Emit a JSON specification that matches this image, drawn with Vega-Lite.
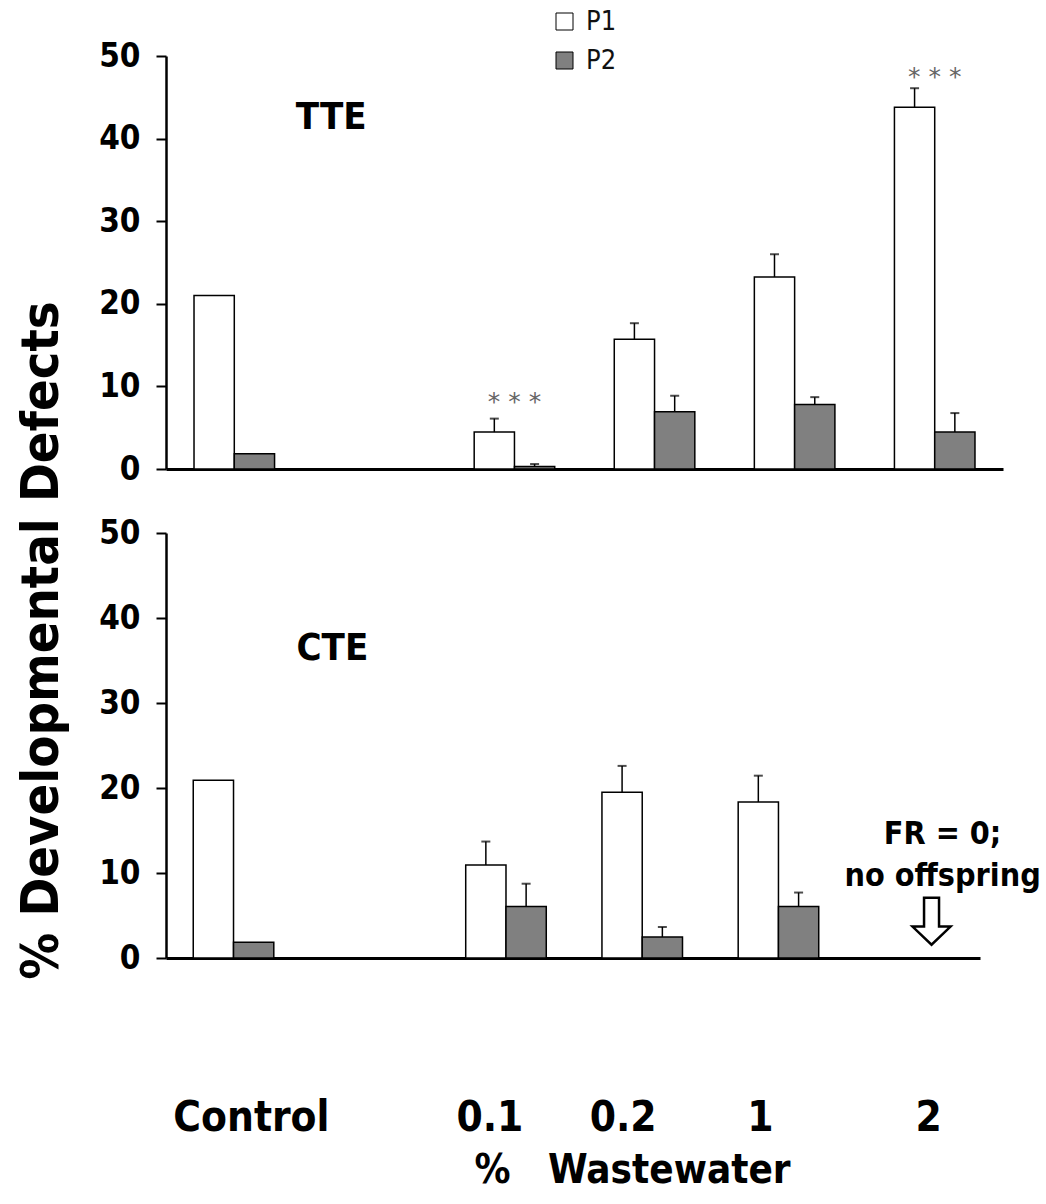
{
  "$schema": "https://vega.github.io/schema/vega-lite/v6.json",
  "padding": {"left": 14, "top": 8, "right": 0, "bottom": 20},
  "bounds": "flush",
  "spacing": 64,
  "config": {
    "font": "DejaVu Sans Condensed, DejaVu Sans",
    "view": {"stroke": null},
    "axis": {"grid": false, "labelColor": "black", "titleColor": "black", "domainColor": "black", "tickColor": "black"}
  },
  "datasets": {
    "tte": [
      {"conc": "Control", "gen": "P1", "value": 21.0, "hi": null},
      {"conc": "Control", "gen": "P2", "value": 1.85, "hi": null},
      {"conc": "0.1", "gen": "P1", "value": 4.47, "hi": 6.1},
      {"conc": "0.1", "gen": "P2", "value": 0.3, "hi": 0.6},
      {"conc": "0.2", "gen": "P1", "value": 15.7, "hi": 17.65},
      {"conc": "0.2", "gen": "P2", "value": 6.93, "hi": 8.86},
      {"conc": "1", "gen": "P1", "value": 23.25, "hi": 26.0},
      {"conc": "1", "gen": "P2", "value": 7.8, "hi": 8.7},
      {"conc": "2", "gen": "P1", "value": 43.8, "hi": 46.1},
      {"conc": "2", "gen": "P2", "value": 4.47, "hi": 6.77}
    ],
    "cte": [
      {"conc": "Control", "gen": "P1", "value": 20.9, "hi": null},
      {"conc": "Control", "gen": "P2", "value": 1.84, "hi": null},
      {"conc": "0.1", "gen": "P1", "value": 10.94, "hi": 13.7},
      {"conc": "0.1", "gen": "P2", "value": 6.07, "hi": 8.74},
      {"conc": "0.2", "gen": "P1", "value": 19.5, "hi": 22.6},
      {"conc": "0.2", "gen": "P2", "value": 2.47, "hi": 3.65},
      {"conc": "1", "gen": "P1", "value": 18.35, "hi": 21.45},
      {"conc": "1", "gen": "P2", "value": 6.07, "hi": 7.7}
    ]
  },
  "resolve": {"legend": {"fill": "independent"}},
  "vconcat": [
    {
      "width": 837,
      "height": 413,
      "data": {"name": "tte"},
      "encoding": {
        "x": {
          "field": "conc", "type": "nominal", "title": null,
          "scale": {"domain": ["Control", " ", "0.1", "0.2", "1", "2"], "paddingInner": 0.425},
          "axis": {"labels": false, "ticks": false, "domainWidth": 3, "title": null}
        },
        "y": {
          "field": "value", "type": "quantitative", "title": null,
          "scale": {"domain": [0, 50]},
          "axis": {"values": [0, 10, 20, 30, 40, 50], "labelFontSize": 33, "labelFontWeight": "bold", "labelPadding": 16, "tickSize": 10, "tickWidth": 2, "domainWidth": 2.5, "title": null}
        }
      },
      "layer": [
        {
          "mark": {"type": "bar", "stroke": "black", "strokeWidth": 1.5},
          "encoding": {
            "xOffset": {"field": "gen", "type": "nominal", "scale": {"domain": ["P1", "P2"], "paddingInner": 0, "paddingOuter": 0}},
            "fill": {
              "field": "gen", "type": "nominal",
              "scale": {"domain": ["P1", "P2"], "range": ["white", "#808080"]},
              "legend": {"orient": "none", "legendX": 385, "legendY": -48, "title": null, "symbolType": "square", "symbolSize": 289, "symbolStrokeColor": "black", "symbolStrokeWidth": 1, "labelFontSize": 27, "labelColor": "#111", "rowPadding": 11, "labelOffset": 8}
            }
          }
        },
        {
          "transform": [{"filter": "datum.hi != null"}],
          "mark": {"type": "rule", "color": "black", "strokeWidth": 1.5},
          "encoding": {
            "xOffset": {"field": "gen", "type": "nominal"},
            "y": {"field": "hi", "type": "quantitative"},
            "y2": {"field": "value"}
          }
        },
        {
          "transform": [{"filter": "datum.hi != null"}],
          "mark": {"type": "tick", "color": "black", "thickness": 2, "size": 9},
          "encoding": {
            "xOffset": {"field": "gen", "type": "nominal"},
            "y": {"field": "hi", "type": "quantitative"}
          }
        },
        {
          "data": {"values": [{"t": "TTE", "conc": "Control", "v": 42.5}]},
          "mark": {"type": "text", "fontSize": 38, "fontWeight": "bold", "color": "black", "dx": 97, "baseline": "middle"},
          "encoding": {
            "x": {"field": "conc", "type": "nominal"},
            "y": {"field": "v", "type": "quantitative"},
            "text": {"field": "t"}
          }
        },
        {
          "data": {"values": [{"t": "* * *", "conc": "0.1", "v": 8.1}, {"t": "* * *", "conc": "2", "v": 47.5}]},
          "mark": {"type": "text", "fontSize": 25, "font": "DejaVu Sans", "color": "#666", "baseline": "middle"},
          "encoding": {
            "x": {"field": "conc", "type": "nominal"},
            "y": {"field": "v", "type": "quantitative"},
            "text": {"field": "t"}
          }
        }
      ]
    },
    {
      "width": 814,
      "height": 425,
      "data": {"name": "cte"},
      "encoding": {
        "x": {
          "field": "conc", "type": "nominal",
          "scale": {"domain": ["Control", " ", "0.1", "0.2", "1", "2"], "paddingInner": 0.425},
          "axis": {
            "labelAngle": 0, "labelOverlap": false, "labelFontSize": 42, "labelFontWeight": "bold", "labelPadding": 139, "ticks": false, "domainWidth": 3,
            "labelOffset": {"condition": [{"test": "datum.value == 'Control'", "value": 19}, {"test": "datum.value == '2'", "value": 15}, {"test": "datum.value == '0.2'", "value": -18}, {"test": "datum.value == '1'", "value": -17}], "value": -15},
            "title": "%\u00a0\u00a0\u00a0Wastewater", "titleFontSize": 40, "titleFontWeight": "bold", "titleX": 466, "titleY": 212, "titleAlign": "center", "titleBaseline": "middle"
          }
        },
        "y": {
          "field": "value", "type": "quantitative",
          "scale": {"domain": [0, 50]},
          "axis": {"values": [0, 10, 20, 30, 40, 50], "labelFontSize": 33, "labelFontWeight": "bold", "labelPadding": 16, "tickSize": 10, "tickWidth": 2, "domainWidth": 2.5, "title": "% Developmental Defects", "titleFontSize": 52, "titleFontWeight": "bold", "titleAngle": 270, "titleX": -125, "titleY": 107, "titleAlign": "center", "titleBaseline": "middle"}
        }
      },
      "layer": [
        {
          "mark": {"type": "bar", "stroke": "black", "strokeWidth": 1.5},
          "encoding": {
            "xOffset": {"field": "gen", "type": "nominal", "scale": {"domain": ["P1", "P2"], "paddingInner": 0, "paddingOuter": 0}},
            "fill": {
              "field": "gen", "type": "nominal",
              "scale": {"domain": ["P1", "P2"], "range": ["white", "#808080"]},
              "legend": null
            }
          }
        },
        {
          "transform": [{"filter": "datum.hi != null"}],
          "mark": {"type": "rule", "color": "black", "strokeWidth": 1.5},
          "encoding": {
            "xOffset": {"field": "gen", "type": "nominal"},
            "y": {"field": "hi", "type": "quantitative"},
            "y2": {"field": "value"}
          }
        },
        {
          "transform": [{"filter": "datum.hi != null"}],
          "mark": {"type": "tick", "color": "black", "thickness": 2, "size": 9},
          "encoding": {
            "xOffset": {"field": "gen", "type": "nominal"},
            "y": {"field": "hi", "type": "quantitative"}
          }
        },
        {
          "data": {"values": [{"t": "CTE", "conc": "Control", "v": 36.3}]},
          "mark": {"type": "text", "fontSize": 38, "fontWeight": "bold", "color": "black", "dx": 100, "baseline": "middle"},
          "encoding": {
            "x": {"field": "conc", "type": "nominal"},
            "y": {"field": "v", "type": "quantitative"},
            "text": {"field": "t"}
          }
        },
        {
          "data": {"values": [{"t": "FR = 0;\nno offspring", "conc": "2", "v": 14.6}]},
          "mark": {"type": "text", "fontSize": 32, "fontWeight": "bold", "color": "black", "dx": 29, "baseline": "middle", "lineBreak": "\n", "lineHeight": 42},
          "encoding": {
            "x": {"field": "conc", "type": "nominal"},
            "y": {"field": "v", "type": "quantitative"},
            "text": {"field": "t"}
          }
        },
        {
          "data": {"values": [{"conc": "2", "v": 4.33}]},
          "mark": {"type": "point", "shape": "M 0.445 -1 L 1.083 -1 L 1.083 0.23 L 1.572 0.23 L 0.764 1 L -0.045 0.23 L 0.445 0.23 Z", "size": 2209, "filled": true, "fill": "white", "stroke": "black", "strokeWidth": 2.5, "opacity": 1},
          "encoding": {
            "x": {"field": "conc", "type": "nominal"},
            "y": {"field": "v", "type": "quantitative"}
          }
        }
      ]
    }
  ]
}
